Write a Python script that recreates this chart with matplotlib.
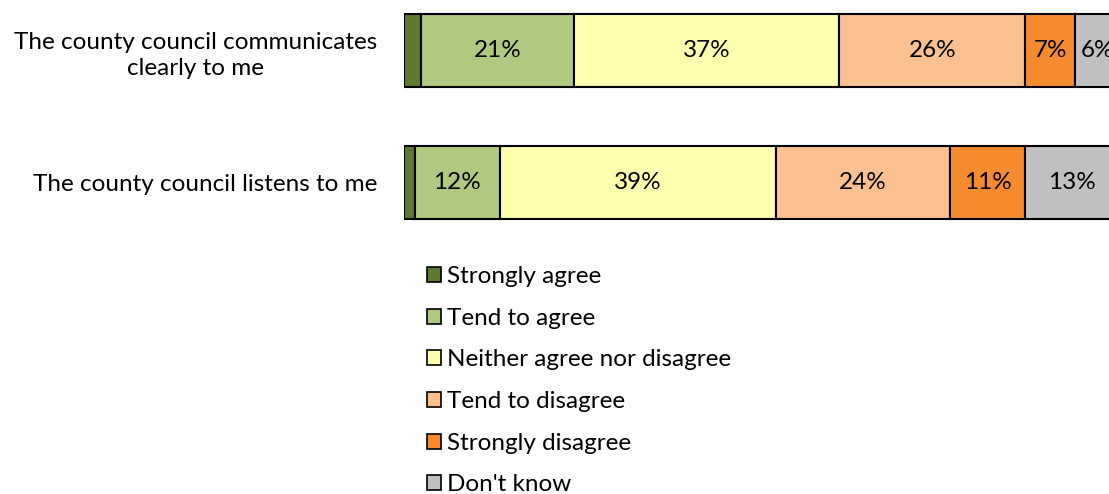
import matplotlib
matplotlib.use("Agg")
import matplotlib.pyplot as plt
from matplotlib.patches import Patch

plt.rcParams['font.family'] = ['Lato', 'DejaVu Sans']

# ---------------- DATA ----------------
statements = [
    "The county council communicates\nclearly to me",
    "The county council listens to me",
]
categories = [
    "Strongly agree",
    "Tend to agree",
    "Neither agree nor disagree",
    "Tend to disagree",
    "Strongly disagree",
    "Don't know",
]
communicates = [2.4, 21.4, 37.1, 26.0, 7.0, 6.1]
listens = [1.5, 11.9, 38.6, 24.3, 10.6, 13.1]
colors = ["#5e7a30", "#b0c980", "#ffffb0", "#fac090", "#f58b2e", "#c0c0c0"]

series = [communicates, listens]
FS = 17.5

# ---------------- FIGURE ----------------
fig = plt.figure(figsize=(11.09, 4.94), dpi=100)
ax = fig.add_axes([404 / 1109, 0, 715 / 1109, 1])

for row, values in enumerate(series):
    left = 0
    for value, color in zip(values, colors):
        ax.barh(row, value, left=left, height=0.553, color=color,
                edgecolor="black", linewidth=1.5)
        if value >= 5:
            ax.text(left + value / 2, row, f"{round(value)}%",
                    ha="center", va="center", fontsize=FS)
        left += value

ax.set_xlim(0, 100)
ax.set_ylim(3.36, -0.3826)
ax.set_yticks(range(len(statements)))
ax.set_yticklabels(statements, fontsize=FS)
for lbl in ax.get_yticklabels():
    lbl.set_multialignment("center")
    lbl.set_linespacing(1.35)
ax.tick_params(axis="y", length=0, pad=19)
ax.set_xticks([])
for spine in ax.spines.values():
    spine.set_visible(False)

handles = [Patch(facecolor=c, edgecolor="black", linewidth=1.2) for c in colors]
fig.legend(handles, categories, loc="upper left",
           bbox_to_anchor=(427 / 1109, 1 - 266 / 494), frameon=False,
           fontsize=FS, handlelength=0.58, handleheight=0.58,
           handletextpad=0.25, labelspacing=0.85, borderaxespad=0,
           borderpad=0)

fig.savefig("out.png", dpi=100)
